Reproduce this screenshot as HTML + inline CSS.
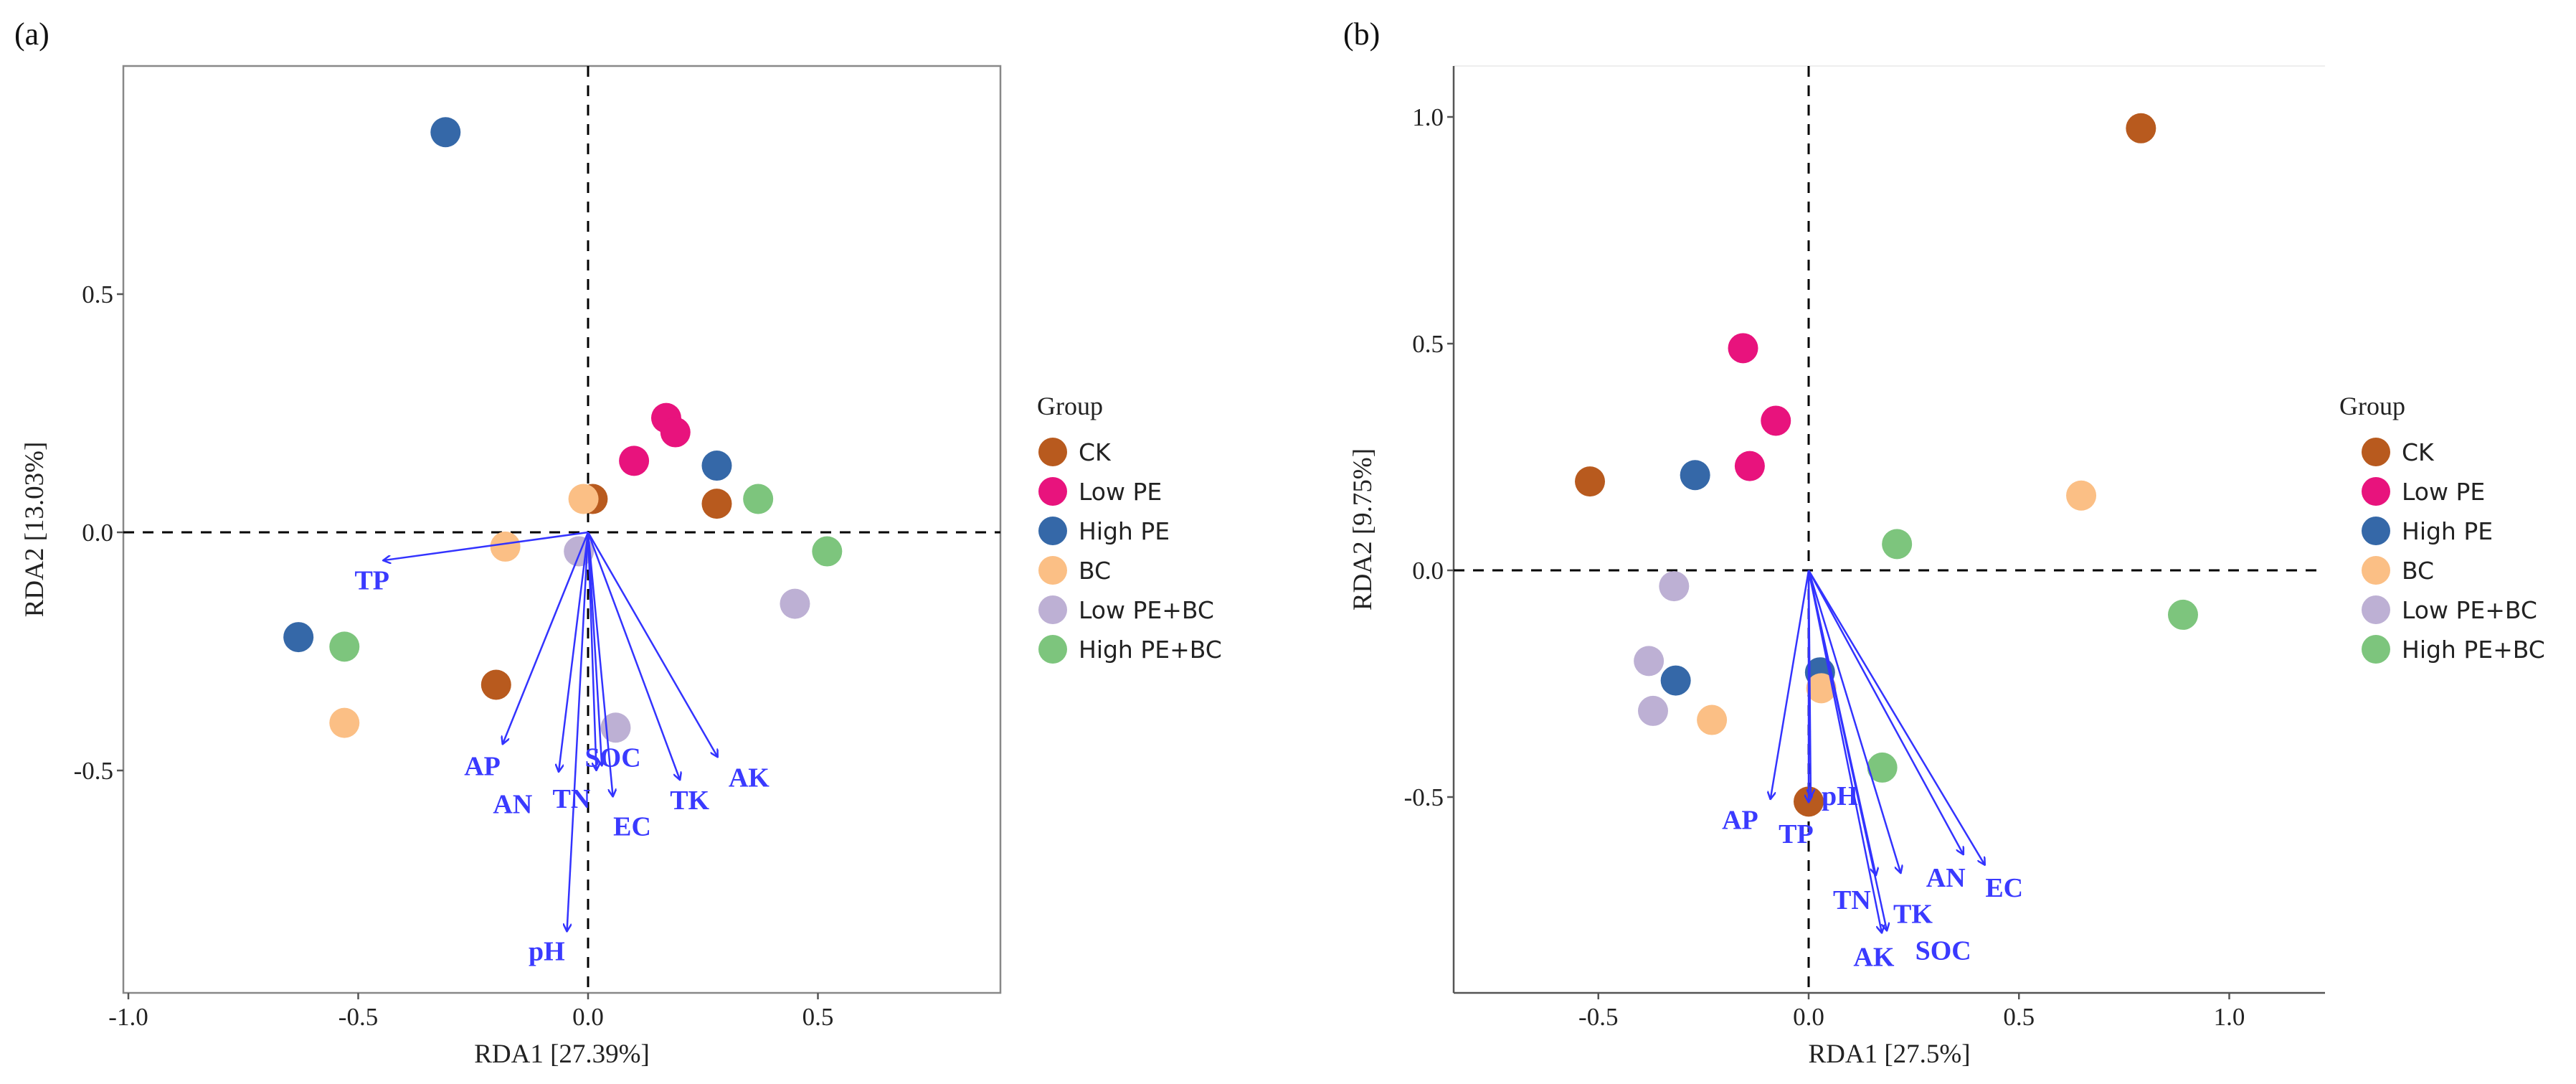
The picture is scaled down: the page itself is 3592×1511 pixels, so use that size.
<!DOCTYPE html>
<html><head><meta charset="utf-8"><style>
html,body{margin:0;padding:0;background:#fff;}
svg{display:block;}
</style></head><body>
<svg id="fig" width="3592" height="1511" viewBox="0 0 3592 1511" xmlns="http://www.w3.org/2000/svg">
<defs>
<marker id="ah" viewBox="0 0 12 12" refX="11" refY="6" markerWidth="12" markerHeight="12" markerUnits="userSpaceOnUse" orient="auto">
<path d="M0,0 L11,6 L0,12" fill="none" stroke="#3333ff" stroke-width="2.5"/>
</marker>
</defs>
</svg>
<script>
const groups = ["CK","Low PE","High PE","BC","Low PE+BC","High PE+BC"];
const colors = ["#b85a1e","#e8137d","#3568a8","#fbbf85","#bdb0d4","#7dc57d"];
// Panel a
const aX = [[0.01,0.28,-0.20],[0.17,0.19,0.10],[-0.31,0.28,-0.63],[-0.01,-0.18,-0.53],[-0.02,0.45,0.06],[0.37,0.52,-0.53]];
const aY = [[0.07,0.06,-0.32],[0.24,0.21,0.15],[0.84,0.14,-0.22],[0.07,-0.03,-0.40],[-0.04,-0.15,-0.41],[0.07,-0.04,-0.24]];
const aVars = ["TP","AP","AN","TN","SOC","EC","TK","AK","pH"];
const aVX = [-0.446,-0.186,-0.064,0.018,0.03,0.054,0.20,0.282,-0.046];
const aVY = [-0.059,-0.445,-0.503,-0.50,-0.49,-0.555,-0.52,-0.472,-0.838];
const aLX = [-0.47,-0.23,-0.164,-0.036,0.054,0.096,0.221,0.35,-0.09];
const aLY = [-0.10,-0.49,-0.57,-0.559,-0.472,-0.617,-0.562,-0.514,-0.879];
const aXTicks = [-1.0,-0.5,0.0,0.5];
const aYTicks = [-0.5,0.0,0.5];
// Panel b
const bX = [[0.79,-0.52,0.0],[-0.156,-0.078,-0.14],[-0.27,-0.316,0.027],[0.648,0.03,-0.23],[-0.32,-0.38,-0.37],[0.21,0.89,0.175]];
const bY = [[0.975,0.196,-0.51],[0.49,0.33,0.23],[0.21,-0.243,-0.225],[0.165,-0.26,-0.33],[-0.035,-0.2,-0.31],[0.058,-0.098,-0.435]];
const bVars = ["AP","TP","pH","TN","TK","AK","SOC","AN","EC"];
const bVX = [-0.091,0.0,0.005,0.16,0.219,0.174,0.186,0.368,0.419];
const bVY = [-0.505,-0.512,-0.50,-0.673,-0.668,-0.80,-0.795,-0.627,-0.65];
const bLX = [-0.163,-0.03,0.074,0.103,0.248,0.155,0.32,0.326,0.465];
const bLY = [-0.55,-0.581,-0.497,-0.726,-0.757,-0.852,-0.838,-0.677,-0.699];
const bXTicks = [-0.5,0.0,0.5,1.0];
const bYTicks = [-0.5,0.0,0.5,1.0];

const NS="http://www.w3.org/2000/svg";
const svg=document.getElementById('fig');
function mk(tag,attrs,parent,text){const e=document.createElementNS(NS,tag);for(const k in attrs)e.setAttribute(k,attrs[k]);if(text!==undefined)e.textContent=text;(parent||svg).appendChild(e);return e;}

function panel(cfg){
  const g=mk('g',{});
  
  
  const sx=v=>cfg.x0+v*cfg.kx, sy=v=>cfg.y0-v*cfg.ky;
  const L=cfg.left,R=cfg.right,T=cfg.top,B=cfg.bottom;
  if(cfg.box){
    const r=mk('rect',{x:L,y:T,width:R-L,height:B-T,fill:'none',stroke:'#888',"stroke-width":2.5},g);
    
    
  } else {
    mk('line',{x1:L,y1:T,x2:R,y2:T,stroke:'#eee',"stroke-width":2},g);
    const ya=mk('line',{x1:L,y1:T,x2:L,y2:B,stroke:'#555',"stroke-width":2.5},g);
    
    
    const xa=mk('line',{x1:L,y1:B,x2:R,y2:B,stroke:'#555',"stroke-width":2.5},g);
    
    
  }
  const h=mk('line',{x1:L,y1:sy(0),x2:R,y2:sy(0),stroke:'#000',"stroke-width":3,"stroke-dasharray":"15 12"},g);
  
  
  const v=mk('line',{x1:sx(0),y1:T,x2:sx(0),y2:B,stroke:'#000',"stroke-width":3,"stroke-dasharray":"15 12"},g);
  
  
  cfg.xt.forEach(t=>{
    mk('line',{x1:sx(t),y1:B,x2:sx(t),y2:B+9,stroke:'#555',"stroke-width":2.5},g);
    const tx=mk('text',{x:sx(t),y:B+45,"text-anchor":"middle","font-family":"Liberation Serif, serif","font-size":35,fill:'#222'},g,t.toFixed(1));
    
    
  });
  cfg.yt.forEach(t=>{
    mk('line',{x1:L-9,y1:sy(t),x2:L,y2:sy(t),stroke:'#555',"stroke-width":2.5},g);
    const tx=mk('text',{x:L-14,y:sy(t)+12,"text-anchor":"end","font-family":"Liberation Serif, serif","font-size":35,fill:'#222'},g,t.toFixed(1));
    
    
  });
  const xt=mk('text',{x:(L+R)/2,y:B+97,"text-anchor":"middle","font-family":"Liberation Serif, serif","font-size":37,fill:'#222'},g,cfg.xtitle);
  
  
  const yt=mk('text',{x:0,y:0,"text-anchor":"middle","font-family":"Liberation Serif, serif","font-size":37,fill:'#222',transform:`translate(${cfg.ytx},${(T+B)/2}) rotate(-90)`},g,cfg.ytitle);
  
  
  const pl=mk('text',{x:cfg.plx,y:62,"font-family":"Liberation Serif, serif","font-size":44,fill:'#111'},g,cfg.plabel);
  
  
  cfg.px.forEach((arr,gi)=>arr.forEach((xv,i)=>{
    const c=mk('circle',{cx:sx(xv),cy:sy(cfg.py[gi][i]),r:21,fill:colors[gi]},g);
    
    
  }));
  cfg.vars.forEach((nm,i)=>{
    const a=mk('line',{x1:sx(0),y1:sy(0),x2:sx(cfg.vx[i]),y2:sy(cfg.vy[i]),stroke:'#3333ff',"stroke-width":2.5,"marker-end":"url(#ah)"},g);
    
    
    const lt=mk('text',{x:sx(cfg.lx[i]),y:sy(cfg.ly[i])+13,"text-anchor":"middle","font-family":"Liberation Serif, serif","font-weight":"bold","font-size":38,fill:'#3a3aff'},g,nm);
    
    
  });
  const lg=mk('g',{},g);
  
  
  const gt=mk('text',{x:cfg.legtx,y:578,"font-family":"Liberation Serif, serif","font-size":36,fill:'#222'},lg,'Group');
  
  
  groups.forEach((nm,i)=>{
    const yy=630+i*55;
    const c=mk('circle',{cx:cfg.legx+22,cy:yy,r:20,fill:colors[i]},lg);
    
    
    const t=mk('text',{x:cfg.legx+58,y:yy+12,"font-family":"DejaVu Sans, sans-serif","font-size":33,fill:'#222'},lg,nm);
    
    
  });
}
panel({name:'panel-a',x0:820,y0:742,kx:641,ky:664,left:172,right:1395,top:92,bottom:1384,box:true,
  xt:aXTicks,yt:aYTicks,xtitle:'RDA1 [27.39%]',ytitle:'RDA2 [13.03%]',ytx:60,plabel:'(a)',plx:20,
  px:aX,py:aY,vars:aVars,vx:aVX,vy:aVY,lx:aLX,ly:aLY,legx:1446,legtx:1446});
panel({name:'panel-b',x0:2522,y0:795,kx:586.5,ky:632,left:2027,right:3242,top:92,bottom:1384,box:false,
  xt:bXTicks,yt:bYTicks,xtitle:'RDA1 [27.5%]',ytitle:'RDA2 [9.75%]',ytx:1912,plabel:'(b)',plx:1873,
  px:bX,py:bY,vars:bVars,vx:bVX,vy:bVY,lx:bLX,ly:bLY,legx:3291,legtx:3262});
</script>
</body></html>
